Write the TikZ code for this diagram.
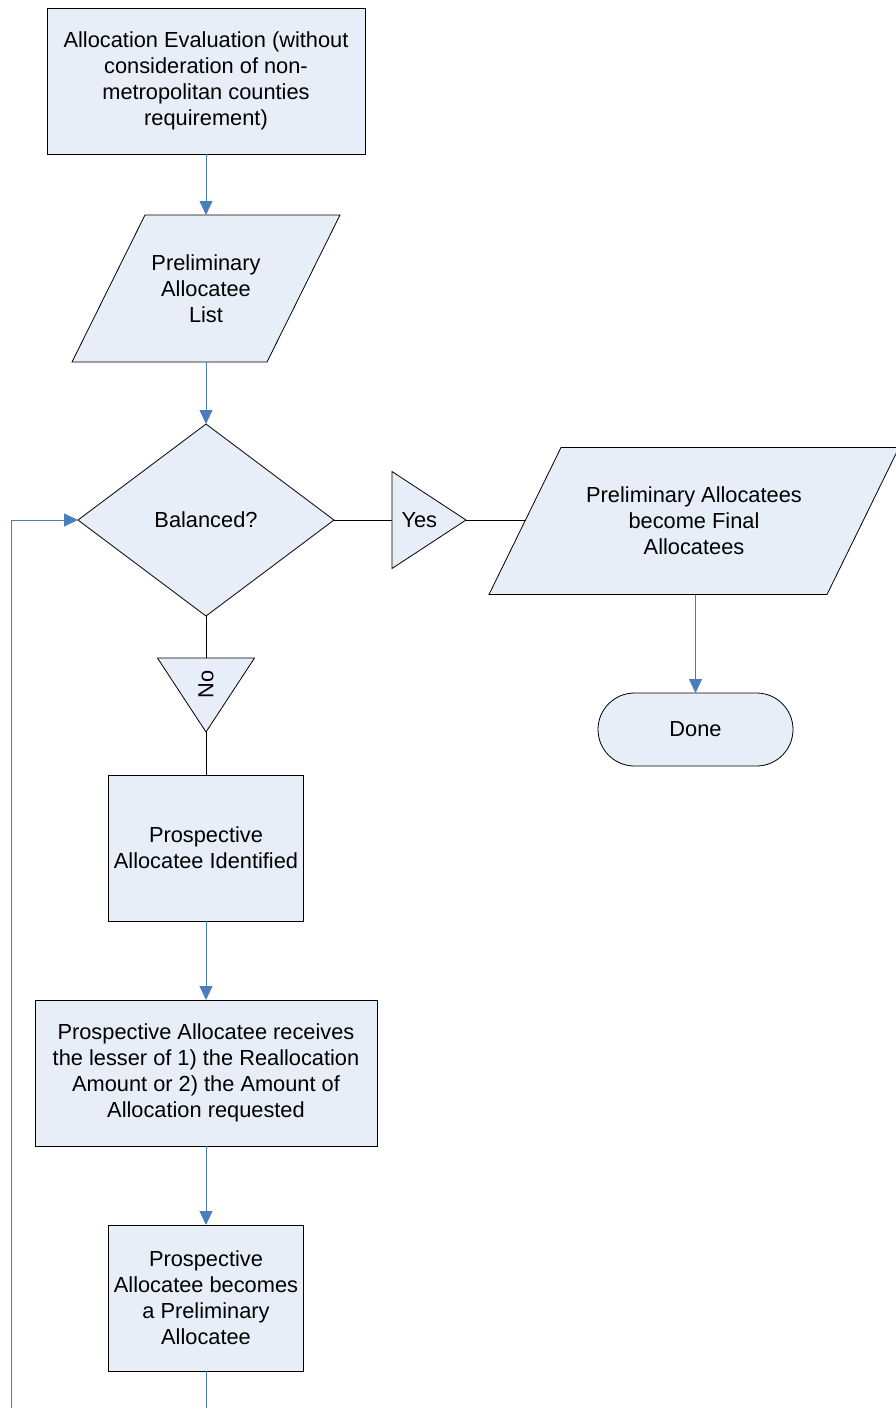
\documentclass[tikz,border=0pt]{standalone}
\usepackage{fontspec}
\setmainfont{Liberation Sans}
\usetikzlibrary{shapes.geometric,shapes.misc,arrows.meta,backgrounds}
\definecolor{boxfill}{RGB}{232,238,247}
\definecolor{flowblue}{RGB}{74,126,187}

% slanted outline behind a named io node
\newcommand{\ioslant}[2]{%
	\begin{scope}[on background layer]
		\draw[line width=0.8pt, fill=boxfill] ([xshift=-#2]#1.south west) -- ([xshift=-#2]#1.south east) -- ([xshift=#2]#1.north east) -- ([xshift=#2]#1.north west) -- cycle;
	\end{scope}}

\begin{document}
\begin{tikzpicture} [
				x=1pt, y=-1pt,
				every node/.style={font=\fontsize{21.8}{26}\selectfont, align=center, inner sep=0pt, outer sep=0pt},
				procbox/.style={draw, line width=0.8pt, fill=boxfill, minimum height=146pt},
				iobox/.style={minimum height=147pt},
				decision/.style={draw, line width=0.8pt, fill=boxfill, diamond, aspect=1.333, minimum width=256pt, minimum height=192pt},
				branch/.style={draw, line width=0.8pt, fill=boxfill, isosceles triangle, isosceles triangle stretches, minimum width=97pt, minimum height=74pt},
				terminal/.style={draw, line width=0.8pt, fill=boxfill, rounded rectangle, minimum width=195pt, minimum height=73pt},
				flow/.style={draw=flowblue, line width=0.8pt, -{Triangle[length=14pt,width=13pt]}},
				flowline/.style={draw=flowblue, line width=0.8pt},
				plain/.style={draw, line width=0.8pt}
			]
			\useasboundingbox (0,0) rectangle (896,1408);
			% main column
			\node[procbox, minimum width=318pt] (evaluation) at (206,81) {Allocation Evaluation (without\\consideration of non-\\metropolitan counties\\requirement)};
			\node[iobox, minimum width=195pt] (prelim) at (206,288.5) {Preliminary\\Allocatee\\List};
			\ioslant{prelim}{36.5pt}
			\node[decision] (balanced) at (206,520) {Balanced?};
			\node[branch, anchor=lower side] (yes) at (392,520) {Yes};
			\node[branch, rotate=90, shape border rotate=180, anchor=lower side] (no) at (206,658) {No};
			\node[procbox, minimum width=195pt] (identified) at (206,848) {Prospective\\Allocatee Identified};
			\node[procbox, minimum width=342pt] (receives) at (206,1073) {Prospective Allocatee receives\\the lesser of 1) the Reallocation\\Amount or 2) the Amount of\\Allocation requested};
			\node[procbox, minimum width=195pt] (becomes) at (206,1298) {Prospective\\Allocatee becomes\\a Preliminary\\Allocatee};
			% right branch
			\node[iobox, minimum width=338pt] (final) at (694,521) {Preliminary Allocatees\\become Final\\Allocatees};
			\ioslant{final}{36pt}
			\node[terminal] (done) at (695.5,729.5) {Done};
			\coordinate (cutA) at (206,1408);
			\coordinate (cutB) at (11,1408);
			% connectors
			\draw[flow] (evaluation.south) -- (prelim.north);
			\draw[flow] (prelim.south) -- (balanced.north);
			\draw[plain] (balanced.east) -- (yes.lower side);
			\draw[plain] (yes.apex) -- (yes.apex -| final.west);
			\draw[plain] (balanced.south) -- (no.lower side);
			\draw[plain] (no.apex) -- (identified.north);
			\draw[flow] (identified.south) -- (receives.north);
			\draw[flow] (receives.south) -- (becomes.north);
			\draw[flowline] (becomes.south) -- (cutA);
			\draw[flow] (cutB) |- (balanced.west);
			\draw[flow] (final.south -| done.north) -- (done.north);
		\end{tikzpicture}
\end{document}
